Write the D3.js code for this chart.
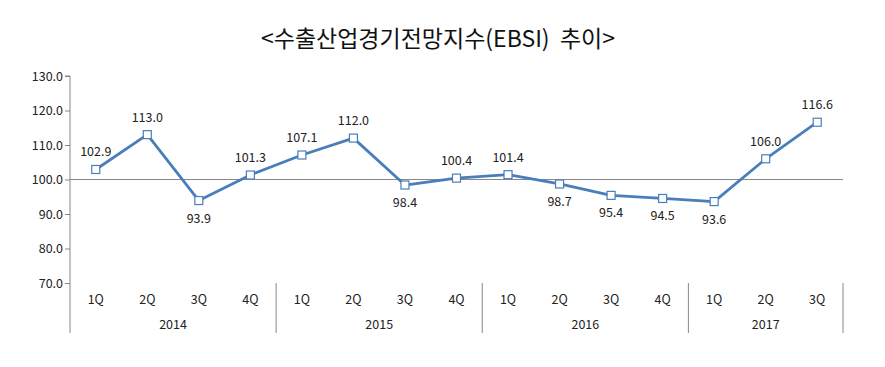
<!DOCTYPE html>
<html><head><meta charset="utf-8">
<script src="https://cdn.jsdelivr.net/npm/d3@7"></script>
<style>body{margin:0;background:#fff}svg{display:block}</style>
</head><body>
<svg id="c" width="885" height="367"></svg>
<script>
const years = ["2014","2015","2016","2017"];
const quarters = ["1Q","2Q","3Q","4Q","1Q","2Q","3Q","4Q","1Q","2Q","3Q","4Q","1Q","2Q","3Q"];
const yearOf = [0,0,0,0,1,1,1,1,2,2,2,2,3,3,3];
const values = [102.9,113.0,93.9,101.3,107.1,112.0,98.4,100.4,101.4,98.7,95.4,94.5,93.6,106.0,116.6];
const labelAbove = [1,1,0,1,1,1,0,1,1,0,0,0,0,1,1];
const yTicks = [70,80,90,100,110,120,130];
const title = "<수출산업경기전망지수(EBSI)  추이>";

const svg = d3.select("#c");
const L = 70, R = 843, T = 76, B = 283;
const idx = d3.range(values.length);
const x = d3.scaleBand().domain(idx).range([L, R]);
const y = d3.scaleLinear().domain([70,130]).range([B, T]);
const font = "'Noto Sans CJK KR','Noto Sans',sans-serif";

svg.append("text").attr("x", 438).attr("y", 47).attr("text-anchor","middle")
  .style("white-space","pre")
  .attr("font-family", font).attr("font-size", 23).attr("fill","#111").text(title);

// y axis
const ya = svg.append("g").attr("transform", `translate(${L},0)`)
  .call(d3.axisLeft(y).tickValues(yTicks).tickSize(5).tickFormat(d3.format(".1f")));
ya.select(".domain").attr("stroke","#888").attr("d", `M-5,${T}H0V333`);
ya.selectAll(".tick line").attr("stroke","#888");
ya.selectAll(".tick text").attr("font-family", font).attr("font-size", 12.5)
  .attr("fill","#222").attr("x",-7);

// horizontal axis at 100
svg.append("line").attr("x1", L).attr("x2", R).attr("y1", y(100)).attr("y2", y(100))
  .attr("stroke","#888").attr("stroke-width",1);

// category labels
svg.append("g").selectAll("text").data(idx).join("text")
  .attr("x", i => x(i) + x.bandwidth()/2).attr("y", 304).attr("text-anchor","middle")
  .attr("font-family", font).attr("font-size", 12.5).attr("fill","#222")
  .text(i => quarters[i]);

// year groups
const groups = years.map((yr, k) => {
  const ii = idx.filter(i => yearOf[i] === k);
  return {yr, x0: x(ii[0]), x1: x(ii[ii.length-1]) + x.bandwidth()};
});
svg.append("g").selectAll("line").data(groups).join("line")
  .attr("x1", d => d.x1).attr("x2", d => d.x1).attr("y1", B).attr("y2", 333)
  .attr("stroke","#888");
svg.append("g").selectAll("text").data(groups).join("text")
  .attr("x", d => (d.x0 + d.x1)/2).attr("y", 329).attr("text-anchor","middle")
  .attr("font-family", font).attr("font-size", 12.5).attr("fill","#222")
  .text(d => d.yr);

// line
const line = d3.line().x(i => x(i) + x.bandwidth()/2).y(i => y(values[i]));
svg.append("path").datum(idx).attr("d", line).attr("fill","none")
  .attr("stroke","#4a7ebb").attr("stroke-width",2.8).attr("stroke-linejoin","round");

svg.append("g").selectAll("rect").data(idx).join("rect")
  .attr("x", i => x(i) + x.bandwidth()/2 - 4).attr("y", i => y(values[i]) - 4)
  .attr("width", 8).attr("height", 8).attr("fill","#fff")
  .attr("stroke","#4a7ebb").attr("stroke-width",1.2);

svg.append("g").selectAll("text").data(idx).join("text")
  .attr("x", i => x(i) + x.bandwidth()/2)
  .attr("y", i => y(values[i]) + (labelAbove[i] ? -13 : 22))
  .attr("text-anchor","middle").attr("font-family", font).attr("font-size", 12.5)
  .attr("fill","#222").text(i => values[i].toFixed(1));
</script>
</body></html>
